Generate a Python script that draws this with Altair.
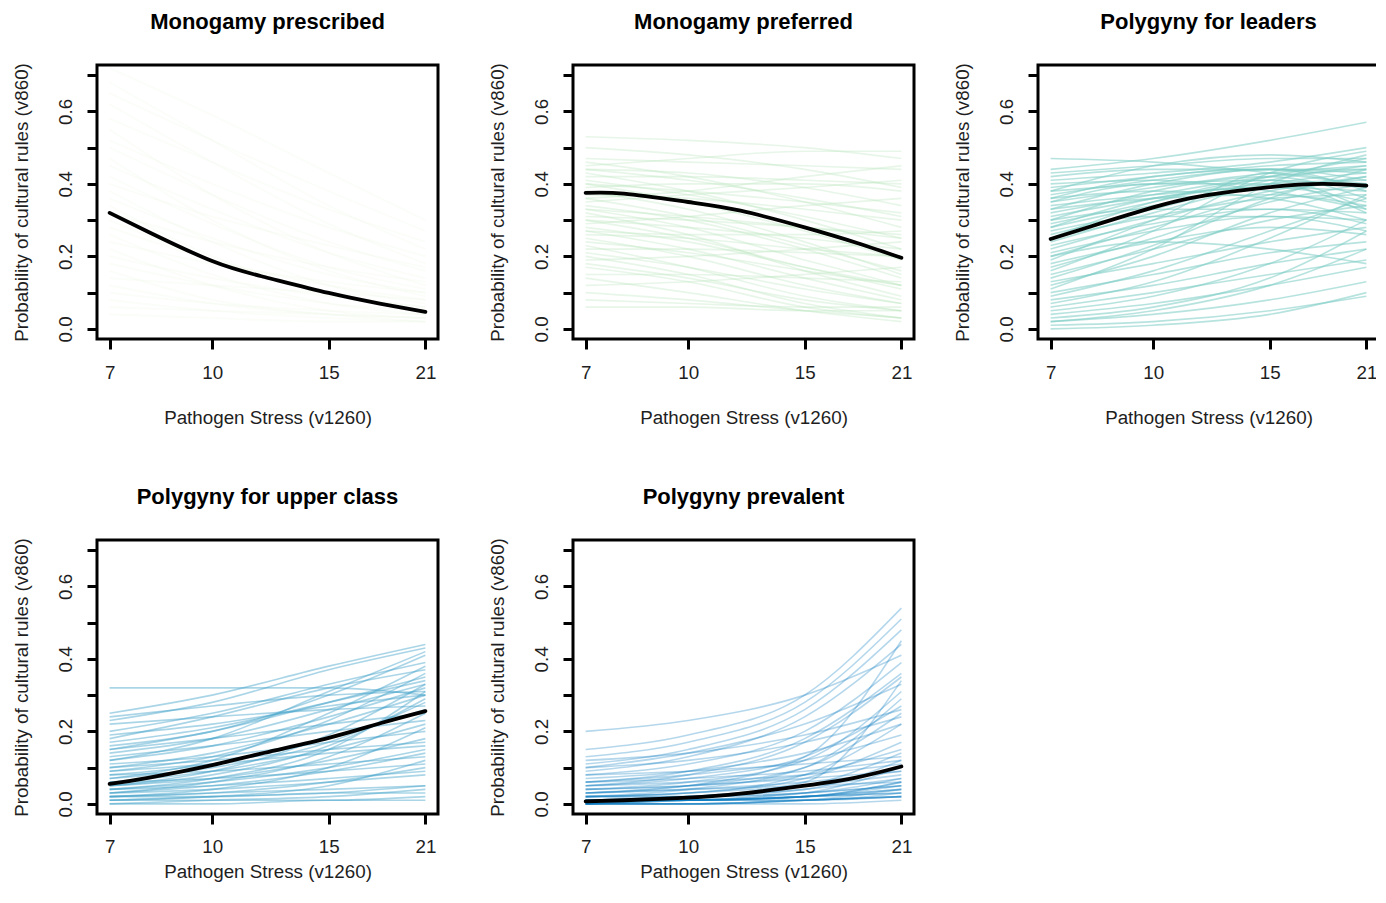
import altair as alt
import pandas as pd

TITLES = ["Monogamy prescribed", "Monogamy preferred", "Polygyny for leaders",
          "Polygyny for upper class", "Polygyny prevalent"]
COLORS = ["#f0f9e8", "#bae4bc", "#7bccc4", "#43a2ca", "#0a7cbf"]
OPACITY = [0.3, 0.35, 0.55, 0.45, 0.3]
XS = [7, 10, 15, 21]
MEAN_XS = [7, 8, 10, 12, 15, 18, 21]
X_TICKS = [7, 10, 15, 21]
Y_TICKS = [0.0, 0.1, 0.2, 0.3, 0.4, 0.5, 0.6, 0.7]

# ---- Monogamy prescribed (thin posterior lines, value at x = 7, 10, 15, 21)
p1_at7 = [0.72, 0.68, 0.65, 0.62, 0.58, 0.55, 0.52, 0.50, 0.47, 0.45, 0.42, 0.40, 0.38, 0.36, 0.34,
          0.32, 0.30, 0.28, 0.26, 0.24, 0.22, 0.20, 0.18, 0.16, 0.14, 0.12, 0.10, 0.08, 0.06, 0.04]
p1_at10 = [0.59, 0.52, 0.52, 0.46, 0.46, 0.37, 0.40, 0.37, 0.30, 0.33, 0.29, 0.31, 0.24, 0.25, 0.20,
           0.24, 0.19, 0.19, 0.15, 0.18, 0.12, 0.14, 0.12, 0.08, 0.12, 0.07, 0.07, 0.05, 0.05, 0.03]
p1_at15 = [0.43, 0.34, 0.38, 0.29, 0.33, 0.21, 0.28, 0.24, 0.16, 0.21, 0.17, 0.23, 0.12, 0.15, 0.10,
           0.17, 0.10, 0.12, 0.07, 0.13, 0.05, 0.09, 0.07, 0.04, 0.10, 0.04, 0.05, 0.03, 0.04, 0.02]
p1_at21 = [0.30, 0.22, 0.27, 0.18, 0.24, 0.12, 0.20, 0.16, 0.09, 0.14, 0.11, 0.17, 0.07, 0.10, 0.05,
           0.13, 0.06, 0.08, 0.04, 0.10, 0.03, 0.06, 0.05, 0.02, 0.08, 0.03, 0.04, 0.02, 0.03, 0.02]
p1_mean = [0.320, 0.268, 0.187, 0.143, 0.099, 0.069, 0.047]

# ---- Monogamy preferred
p2_at7 = [0.53, 0.50, 0.47, 0.46, 0.45, 0.44, 0.43, 0.42, 0.41, 0.40, 0.39, 0.38, 0.37, 0.36, 0.35,
          0.34, 0.33, 0.32, 0.31, 0.30, 0.29, 0.28, 0.27, 0.26, 0.25, 0.24, 0.23, 0.22, 0.21, 0.20,
          0.19, 0.18, 0.17, 0.15, 0.14, 0.12, 0.10, 0.08, 0.06, 0.40, 0.36, 0.30, 0.44, 0.27, 0.33]
p2_at10 = [0.52, 0.48, 0.46, 0.42, 0.47, 0.41, 0.38, 0.42, 0.37, 0.35, 0.40, 0.33, 0.36, 0.31, 0.37,
           0.30, 0.31, 0.26, 0.30, 0.25, 0.31, 0.24, 0.22, 0.25, 0.20, 0.21, 0.17, 0.22, 0.17, 0.15,
           0.20, 0.14, 0.13, 0.15, 0.10, 0.13, 0.08, 0.07, 0.06, 0.38, 0.38, 0.28, 0.43, 0.26, 0.28]
p2_at15 = [0.50, 0.44, 0.45, 0.35, 0.49, 0.36, 0.30, 0.41, 0.31, 0.27, 0.40, 0.24, 0.33, 0.23, 0.39,
           0.22, 0.28, 0.16, 0.28, 0.17, 0.34, 0.17, 0.14, 0.22, 0.12, 0.16, 0.09, 0.21, 0.11, 0.07,
           0.22, 0.08, 0.06, 0.14, 0.05, 0.15, 0.05, 0.06, 0.05, 0.35, 0.42, 0.25, 0.39, 0.26, 0.19]
p2_at21 = [0.47, 0.39, 0.44, 0.28, 0.49, 0.31, 0.22, 0.40, 0.25, 0.19, 0.38, 0.15, 0.30, 0.16, 0.41,
           0.14, 0.25, 0.09, 0.26, 0.11, 0.36, 0.12, 0.08, 0.20, 0.07, 0.12, 0.05, 0.20, 0.07, 0.03,
           0.24, 0.05, 0.03, 0.13, 0.02, 0.17, 0.03, 0.06, 0.05, 0.32, 0.45, 0.22, 0.34, 0.27, 0.12]
p2_mean = [0.375, 0.373, 0.350, 0.326, 0.280, 0.237, 0.196]

# ---- Polygyny for leaders
p3_at7 = [0.47, 0.44, 0.43, 0.42, 0.41, 0.40, 0.39, 0.38, 0.37, 0.36, 0.35, 0.34, 0.33, 0.32, 0.31,
          0.30, 0.29, 0.28, 0.27, 0.26, 0.25, 0.24, 0.23, 0.22, 0.21, 0.20, 0.18, 0.17, 0.15, 0.14,
          0.13, 0.12, 0.10, 0.09, 0.08, 0.07, 0.06, 0.05, 0.04, 0.03, 0.02, 0.01, 0.02, 0.00, 0.11,
          0.16, 0.30, 0.35, 0.25, 0.19, 0.36, 0.28, 0.33, 0.20, 0.38]
p3_at10 = [0.46, 0.47, 0.45, 0.44, 0.43, 0.41, 0.42, 0.40, 0.41, 0.38, 0.39, 0.37, 0.36, 0.37, 0.36,
           0.33, 0.35, 0.34, 0.31, 0.33, 0.31, 0.32, 0.29, 0.30, 0.27, 0.28, 0.24, 0.25, 0.22, 0.23,
           0.18, 0.20, 0.15, 0.16, 0.12, 0.13, 0.10, 0.09, 0.07, 0.06, 0.04, 0.02, 0.05, 0.01, 0.22,
           0.27, 0.38, 0.40, 0.35, 0.30, 0.42, 0.36, 0.40, 0.24, 0.45]
p3_at15 = [0.43, 0.52, 0.47, 0.44, 0.46, 0.38, 0.45, 0.41, 0.44, 0.36, 0.43, 0.39, 0.37, 0.42, 0.40,
           0.33, 0.42, 0.39, 0.31, 0.41, 0.36, 0.40, 0.33, 0.38, 0.31, 0.37, 0.28, 0.35, 0.30, 0.36,
           0.24, 0.32, 0.21, 0.27, 0.18, 0.25, 0.15, 0.18, 0.12, 0.14, 0.08, 0.05, 0.12, 0.04, 0.40,
           0.43, 0.42, 0.40, 0.41, 0.43, 0.44, 0.39, 0.44, 0.22, 0.48]
p3_at21 = [0.40, 0.57, 0.47, 0.41, 0.50, 0.33, 0.46, 0.39, 0.44, 0.30, 0.45, 0.38, 0.34, 0.44, 0.41,
           0.29, 0.47, 0.40, 0.27, 0.45, 0.37, 0.43, 0.32, 0.42, 0.30, 0.42, 0.26, 0.40, 0.34, 0.44,
           0.28, 0.39, 0.24, 0.36, 0.22, 0.37, 0.19, 0.30, 0.17, 0.27, 0.13, 0.09, 0.22, 0.10, 0.48,
           0.49, 0.36, 0.32, 0.33, 0.39, 0.38, 0.35, 0.43, 0.18, 0.46]
p3_mean = [0.248, 0.281, 0.335, 0.368, 0.391, 0.400, 0.395]

# ---- Polygyny for upper class
p4_at7 = [0.32, 0.25, 0.24, 0.23, 0.22, 0.20, 0.19, 0.17, 0.16, 0.15, 0.14, 0.13, 0.12, 0.11, 0.10,
          0.10, 0.09, 0.08, 0.08, 0.07, 0.06, 0.06, 0.05, 0.05, 0.04, 0.04, 0.03, 0.03, 0.02, 0.02,
          0.02, 0.01, 0.01, 0.00, 0.01, 0.00, 0.12, 0.07, 0.15, 0.04, 0.03, 0.09, 0.05, 0.02, 0.18]
p4_at10 = [0.32, 0.30, 0.27, 0.28, 0.24, 0.25, 0.22, 0.21, 0.20, 0.18, 0.18, 0.16, 0.16, 0.13, 0.14,
           0.12, 0.13, 0.11, 0.09, 0.10, 0.09, 0.07, 0.08, 0.07, 0.06, 0.07, 0.05, 0.04, 0.04, 0.03,
           0.03, 0.02, 0.02, 0.01, 0.01, 0.00, 0.18, 0.12, 0.20, 0.05, 0.06, 0.11, 0.09, 0.02, 0.24]
p4_at15 = [0.32, 0.38, 0.30, 0.37, 0.26, 0.33, 0.27, 0.28, 0.30, 0.22, 0.26, 0.20, 0.24, 0.17, 0.22,
           0.15, 0.23, 0.18, 0.11, 0.17, 0.15, 0.09, 0.16, 0.12, 0.10, 0.15, 0.09, 0.06, 0.10, 0.06,
           0.04, 0.05, 0.03, 0.02, 0.01, 0.01, 0.31, 0.25, 0.28, 0.07, 0.13, 0.14, 0.19, 0.03, 0.32]
p4_at21 = [0.30, 0.44, 0.31, 0.43, 0.27, 0.39, 0.30, 0.34, 0.41, 0.25, 0.33, 0.23, 0.32, 0.20, 0.30,
           0.17, 0.36, 0.26, 0.13, 0.28, 0.22, 0.11, 0.29, 0.18, 0.15, 0.31, 0.14, 0.08, 0.21, 0.10,
           0.05, 0.12, 0.05, 0.04, 0.02, 0.01, 0.42, 0.38, 0.35, 0.09, 0.25, 0.16, 0.33, 0.03, 0.37]
p4_mean = [0.055, 0.072, 0.107, 0.141, 0.182, 0.223, 0.256]

# ---- Polygyny prevalent
p5_at7 = [0.20, 0.15, 0.13, 0.12, 0.11, 0.10, 0.09, 0.08, 0.08, 0.07, 0.06, 0.06, 0.05, 0.05, 0.04,
          0.04, 0.03, 0.03, 0.02, 0.02, 0.02, 0.01, 0.01, 0.01, 0.01, 0.00, 0.00, 0.00, 0.00, 0.03,
          0.01, 0.02, 0.00, 0.04, 0.01, 0.00, 0.05, 0.02, 0.06, 0.01, 0.00, 0.10, 0.03, 0.00,
          0.01, 0.00, 0.02, 0.01, 0.00, 0.01]
p5_at10 = [0.23, 0.19, 0.17, 0.14, 0.15, 0.12, 0.13, 0.09, 0.11, 0.09, 0.09, 0.07, 0.07, 0.06, 0.06,
           0.05, 0.05, 0.04, 0.03, 0.03, 0.03, 0.02, 0.02, 0.01, 0.02, 0.01, 0.01, 0.00, 0.00, 0.05,
           0.01, 0.02, 0.01, 0.05, 0.01, 0.00, 0.08, 0.04, 0.08, 0.02, 0.01, 0.14, 0.04, 0.00,
           0.01, 0.00, 0.02, 0.01, 0.01, 0.01]
p5_at15 = [0.30, 0.30, 0.28, 0.19, 0.26, 0.17, 0.24, 0.11, 0.20, 0.14, 0.18, 0.09, 0.13, 0.08, 0.12,
           0.08, 0.10, 0.06, 0.07, 0.05, 0.08, 0.04, 0.05, 0.03, 0.06, 0.02, 0.01, 0.01, 0.00, 0.13,
           0.02, 0.03, 0.03, 0.07, 0.02, 0.01, 0.17, 0.10, 0.12, 0.04, 0.02, 0.22, 0.05, 0.01,
           0.02, 0.01, 0.03, 0.02, 0.01, 0.02]
p5_at21 = [0.41, 0.54, 0.51, 0.26, 0.48, 0.24, 0.44, 0.13, 0.39, 0.22, 0.36, 0.12, 0.27, 0.11, 0.31,
           0.15, 0.25, 0.09, 0.17, 0.08, 0.22, 0.07, 0.14, 0.05, 0.34, 0.04, 0.03, 0.02, 0.01, 0.45,
           0.06, 0.05, 0.10, 0.09, 0.03, 0.02, 0.35, 0.29, 0.19, 0.12, 0.06, 0.33, 0.06, 0.04,
           0.04, 0.02, 0.07, 0.03, 0.02, 0.05]
p5_mean = [0.007, 0.010, 0.017, 0.028, 0.050, 0.073, 0.103]

PANELS = [
    (p1_at7, p1_at10, p1_at15, p1_at21, p1_mean),
    (p2_at7, p2_at10, p2_at15, p2_at21, p2_mean),
    (p3_at7, p3_at10, p3_at15, p3_at21, p3_mean),
    (p4_at7, p4_at10, p4_at15, p4_at21, p4_mean),
    (p5_at7, p5_at10, p5_at15, p5_at21, p5_mean),
]

FONT = "Liberation Sans"
TXT = 18.8

x_scale = alt.Scale(type="log", domain=[6.699, 21.943], nice=False, zero=False)
y_scale = alt.Scale(domain=[-0.028, 0.728], nice=False, zero=False)


def x_axis(label_pad, title_pad):
    return alt.Axis(values=X_TICKS, format="d", title="Pathogen Stress (v1260)", domain=False,
                    grid=False, ticks=True, tickColor="black", tickWidth=3, tickSize=10,
                    labelFont=FONT, labelFontSize=TXT, labelColor="#1e1e1e",
                    labelPadding=label_pad, labelFlush=False, titleFont=FONT, titleFontSize=TXT,
                    titleFontWeight="normal", titleColor="#1e1e1e", titlePadding=title_pad)


y_axis = alt.Axis(values=Y_TICKS, title="Probability of cultural rules (v860)", domain=False,
                  grid=False, ticks=True, tickColor="black", tickWidth=3, tickSize=10,
                  labelExpr="(round(datum.value*10) % 2 == 0) ? format(datum.value, '.1f') : ''",
                  labelAngle=270, labelAlign="center", labelBaseline="bottom",
                  labelFont=FONT, labelFontSize=TXT, labelColor="#1e1e1e", labelPadding=12,
                  labelFlush=False, labelOverlap=False,
                  titleFont=FONT, titleFontSize=TXT, titleFontWeight="normal",
                  titleColor="#1e1e1e", titlePadding=25)


def panel(i, xa):
    at7, at10, at15, at21, mean = PANELS[i]
    rows = []
    for k in range(len(at7)):
        for x, arr in zip(XS, [at7, at10, at15, at21]):
            rows.append({"line": k, "x": x, "y": arr[k]})
    thin_df = pd.DataFrame(rows)
    mean_df = pd.DataFrame({"x": MEAN_XS, "y": mean})
    thin = alt.Chart(thin_df).mark_line(
        interpolate="monotone", strokeWidth=1.6, color=COLORS[i], opacity=OPACITY[i]
    ).encode(
        x=alt.X("x:Q", scale=x_scale, axis=xa),
        y=alt.Y("y:Q", scale=y_scale, axis=y_axis),
        detail="line:N",
    )
    avg = alt.Chart(mean_df).mark_line(
        interpolate="natural", strokeWidth=3.8, color="black", strokeCap="round"
    ).encode(
        x=alt.X("x:Q", scale=x_scale, axis=xa),
        y=alt.Y("y:Q", scale=y_scale, axis=y_axis),
    )
    return alt.layer(thin, avg).properties(
        width=341, height=274,
        title=alt.Title(TITLES[i], font=FONT, fontSize=22, fontWeight="bold", color="black",
                        anchor="middle", offset=29),
    )


xa1 = x_axis(14, 27)
xa2 = x_axis(13, 7)
row1 = alt.hconcat(alt.hconcat(panel(0, xa1), panel(1, xa1), spacing=46), panel(2, xa1),
                   spacing=35)
row2 = alt.hconcat(panel(3, xa2), panel(4, xa2), spacing=46)
chart = alt.vconcat(row1, row2, spacing=54).configure_view(
    stroke="black", strokeWidth=3
).properties(padding={"left": 2, "top": 1, "right": -5, "bottom": 0}, background="white")

chart.save("out.html", embed_options={"renderer": "svg", "actions": False})
